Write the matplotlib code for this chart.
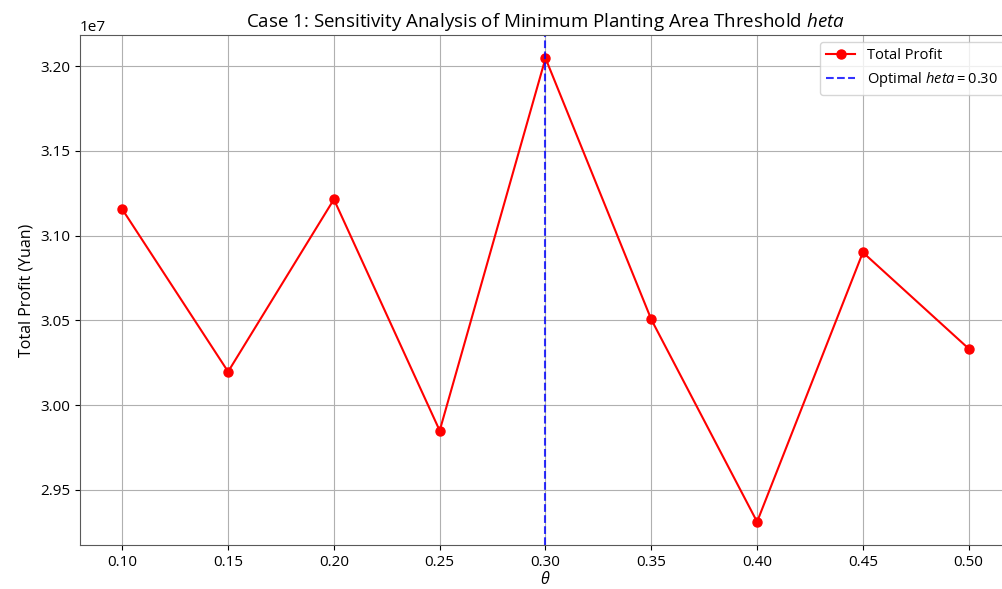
import matplotlib
matplotlib.use("Agg")
import matplotlib.pyplot as plt

# threshold values and resulting total profit (Yuan)
thetas = [0.10, 0.15, 0.20, 0.25, 0.30, 0.35, 0.40, 0.45, 0.50]
profits = [3.1155e7, 3.0197e7, 3.1214e7, 2.9849e7, 3.2047e7,
           3.0505e7, 2.9311e7, 3.0901e7, 3.0333e7]
best_theta = 0.30
x_ticks = [0.10, 0.15, 0.20, 0.25, 0.30, 0.35, 0.40, 0.45, 0.50]

plt.rcParams["font.family"] = ["Open Sans", "DejaVu Sans"]
plt.rcParams["mathtext.fontset"] = "custom"
plt.rcParams["mathtext.it"] = "Open Sans:italic"
plt.rcParams["mathtext.rm"] = "Open Sans"
plt.rcParams["xtick.labelsize"] = 11
plt.rcParams["ytick.labelsize"] = 11
plt.rcParams["axes.edgecolor"] = "0.35"

fig = plt.figure(figsize=(10.03, 5.89), dpi=100)
W, H = 1003, 589
# the reference is cropped on the right: the axes run just past the figure edge
ax = fig.add_axes([80 / W, 44 / H, (1011 - 80) / W, (545 - 35) / H])

ax.plot(thetas, profits, color="red", marker="o", markersize=6.5, label="Total Profit")
ax.axvline(best_theta, color="blue", linestyle="--", alpha=0.8,
           label="Optimal $heta = %.2f$" % best_theta)

ax.set_xticks(x_ticks)
ax.set_xticklabels([f"{t:.2f}" for t in x_ticks])
ax.set_xlim(0.08, 0.52)
ax.set_title("Case 1: Sensitivity Analysis of Minimum Planting Area Threshold $heta$", fontsize=13.5)
ax.set_xlabel(r"$\theta$", fontsize=11.5, labelpad=1)
ax.set_ylabel("Total Profit (Yuan)", fontsize=11.5)
ax.grid(True)
ax.legend(loc="upper right", fontsize=10.5)

fig.savefig("out.png", dpi=100)
